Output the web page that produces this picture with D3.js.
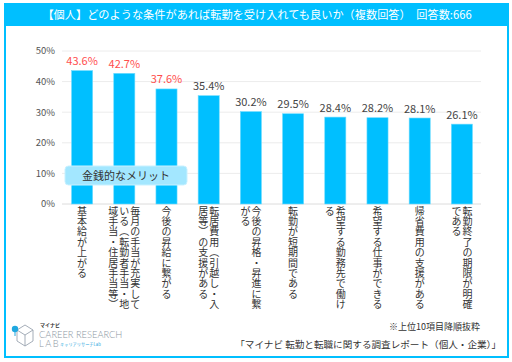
<!DOCTYPE html>
<html><head><meta charset="utf-8">
<script src="https://cdn.jsdelivr.net/npm/d3@7/dist/d3.min.js"></script>
<style>html,body{margin:0;padding:0;background:#fff;}svg{display:block;font-family:"Noto Sans CJK JP","Noto Sans",sans-serif;}</style>
</head><body>
<script>
const title = "【個人】どのような条件があれば転勤を受け入れても良いか（複数回答）　回答数:666";
const categories = ["基本給が上がる","毎月の手当が充実している（転勤者手当・地域手当・住居手当等）","今後の昇給に繋がる","転居費用（引越し・入居等）の支援がある","今後の昇格・昇進に繋がる","転勤が短期間である","希望する勤務先で働ける","希望する仕事ができる","帰省費用の支援がある","転勤終了の期限が明確である"];
const values = [43.6,42.7,37.6,35.4,30.2,29.5,28.4,28.2,28.1,26.1];
const highlighted = [true,true,true,false,false,false,false,false,false,false];
const yTicks = [0,10,20,30,40,50];
const calloutText = "金銭的なメリット";
const footnote = "※上位10項目降順抜粋";
const source = "「マイナビ 転勤と転職に関する調査レポート（個人・企業）」";

const W=512,H=362;
const svg=d3.select("body").append("svg").attr("width",W).attr("height",H);
const blue="#00bfff";

// frame
svg.append("rect").attr("x",5).attr("y",4).attr("width",503).attr("height",353).attr("fill","#fff").attr("stroke",blue).attr("stroke-width",2);
svg.append("rect").attr("x",5).attr("y",4).attr("width",503).attr("height",22).attr("fill",blue);
svg.append("text").attr("x",257).attr("y",19).attr("text-anchor","middle").attr("fill","#fff").attr("font-size",11.2).text(title);

const x=d3.scaleBand().domain(categories).range([61,483]).paddingInner(0.5).paddingOuter(0.25);
const y=d3.scaleLinear().domain([0,50]).range([204,51]);

// grid
svg.append("g").selectAll("line").data(yTicks).join("line")
 .attr("x1",62).attr("x2",481).attr("y1",d=>y(d)).attr("y2",d=>y(d))
 .attr("stroke",d=>d===0?"#dcdcdc":"#ececec").attr("stroke-width",1);
svg.append("g").selectAll("text").data(yTicks).join("text")
 .attr("x",55).attr("y",d=>y(d)+3.3).attr("text-anchor","end").attr("font-size",9.5).attr("fill","#555")
 .text(d=>d+"%");

// bars
svg.append("g").selectAll("rect").data(values).join("rect")
 .attr("x",(d,i)=>x(categories[i])).attr("width",x.bandwidth())
 .attr("y",d=>y(d)).attr("height",d=>y(0)-y(d)).attr("fill",blue)
 .attr("stroke","#6fdcff").attr("stroke-width",0.6);

// value labels
svg.append("g").selectAll("text").data(values).join("text")
 .attr("x",(d,i)=>x(categories[i])+x.bandwidth()/2).attr("y",d=>y(d)-5.5)
 .attr("text-anchor","middle").attr("font-size",11)
 .attr("fill",(d,i)=>highlighted[i]?"#ff4d4d":"#444")
 .text(d=>d.toFixed(1)+"%");

// x labels: vertical text, 10 chars per column, columns right to left
const vmap={"（":"︵","）":"︶"};
const pitch=10.4, colGap=11, perCol=10;
const lg=svg.append("g").attr("fill","#333").attr("font-size",10);
categories.forEach((c,i)=>{
  const chars=Array.from(c);
  const cols=[];
  for(let k=0;k<chars.length;k+=perCol) cols.push(chars.slice(k,k+perCol));
  const cx=x(c)+x.bandwidth()/2;
  cols.forEach((col,j)=>{
    const colX=cx+((cols.length-1)/2-j)*colGap;
    col.forEach((ch,m)=>{
      lg.append("text").attr("x",colX).attr("y",214.5+m*pitch).attr("text-anchor","middle")
        .text(vmap[ch]||ch);
    });
  });
});

// callout
svg.append("rect").attr("x",65).attr("y",166).attr("width",122).attr("height",19).attr("rx",3.5)
 .attr("fill","#a3e7ff").attr("stroke","#c9f1ff").attr("stroke-width",1);
svg.append("text").attr("x",126).attr("y",179.5).attr("text-anchor","middle").attr("font-size",11).attr("fill","#333").text(calloutText);

// footnotes
svg.append("text").attr("x",480).attr("y",330).attr("text-anchor","end").attr("font-size",9).attr("fill","#333").text(footnote);
svg.append("text").attr("x",501).attr("y",347.5).attr("text-anchor","end").attr("font-size",9.6).attr("fill","#333").text(source);

// logo
const lgo=svg.append("g");
lgo.append("path").attr("d","M17,330 L25,325 L33,330 L33,341 L25,346 L17,341 Z M17,330 L25,335 L33,330 M25,335 L25,346")
 .attr("fill","none").attr("stroke","#9aa4b0").attr("stroke-width",0.9);
lgo.append("circle").attr("cx",15).attr("cy",329).attr("r",3.2).attr("fill","#1fa8e0");
lgo.append("line").attr("x1",15).attr("y1",332).attr("x2",15).attr("y2",336).attr("stroke","#1fa8e0").attr("stroke-width",1);
lgo.append("text").attr("x",40).attr("y",327).attr("font-size",5).attr("font-weight","bold").attr("fill","#333").text("マイナビ");
lgo.append("text").attr("x",39).attr("y",337.5).attr("font-size",9.3).attr("fill","#8c97a3").attr("font-family","Lato, sans-serif").attr("font-weight",300).text("CAREER RESEARCH");
lgo.append("text").attr("x",39).attr("y",347).attr("font-size",9.3).attr("fill","#8c97a3").attr("font-family","Lato, sans-serif").attr("font-weight",300).attr("letter-spacing",1.5).text("LAB");
lgo.append("text").attr("x",60).attr("y",346).attr("font-size",4.2).attr("fill","#1fa8e0").text("キャリアリサーチLab");
</script>
</body></html>
